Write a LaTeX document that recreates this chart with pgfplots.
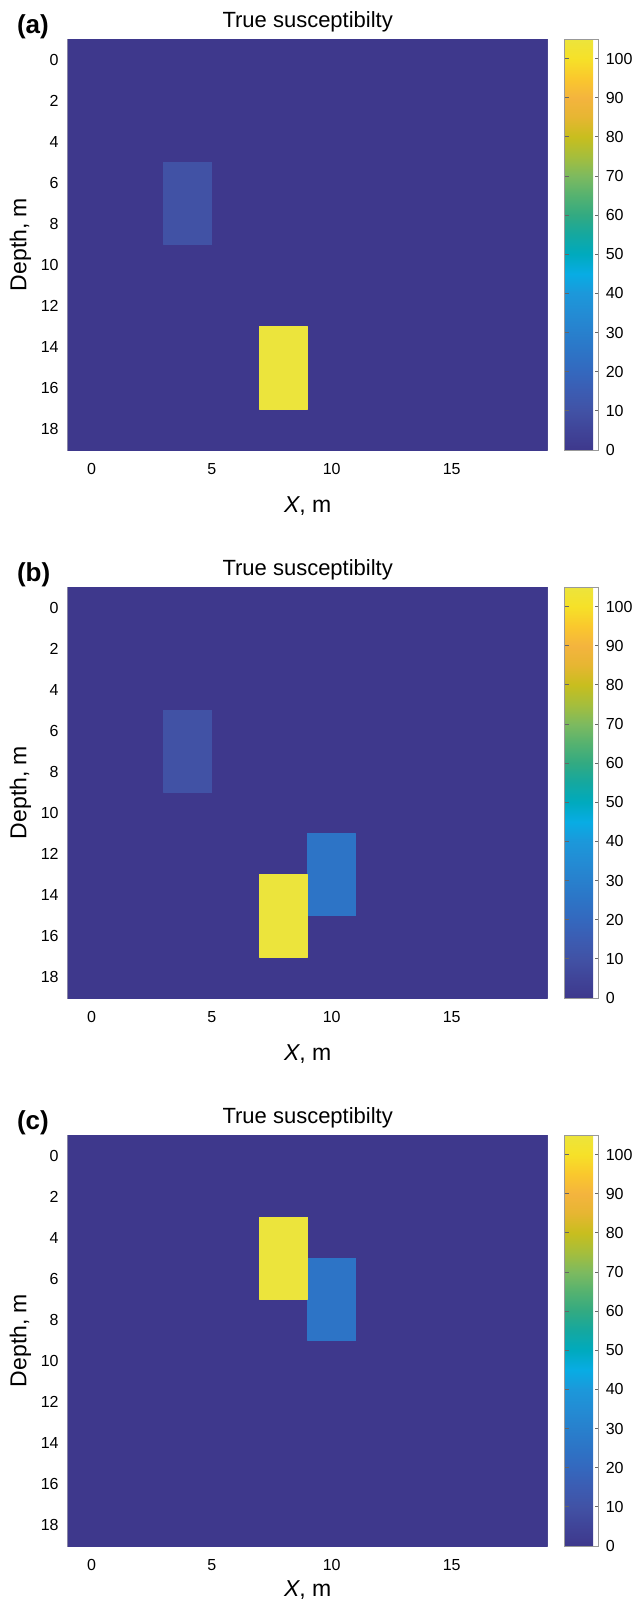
\documentclass[border=0pt]{standalone}
\usepackage{fontspec}
\setmainfont{Liberation Sans}
\usepackage{pgfplots}
\usepgfplotslibrary{patchplots}
\pgfplotsset{compat=1.18}

% parula-like map as seen in the scan, steps of 5 from 0 to 105
\pgfplotsset{
  colormap={scanparula}{
    rgb255=(62,56,140) rgb255=(64,68,152) rgb255=(65,82,165) rgb255=(60,92,178)
    rgb255=(52,104,190) rgb255=(45,116,198) rgb255=(40,128,205) rgb255=(35,140,212)
    rgb255=(28,152,218) rgb255=(8,172,228) rgb255=(0,170,190) rgb255=(20,168,160)
    rgb255=(50,170,130) rgb255=(85,178,112) rgb255=(125,186,95) rgb255=(165,190,60)
    rgb255=(200,190,30) rgb255=(230,182,50) rgb255=(244,180,62) rgb255=(250,200,45)
    rgb255=(246,225,40) rgb255=(236,228,60)
  },
  /pgf/number format/assume math mode=true,
  every tick label/.append style={font=\fontsize{8}{9.6}\selectfont},
  sus/.style={
    scale only axis,
    width=240pt, height=205.5pt,
    xmin=-1, xmax=19, ymin=-1, ymax=19,
    y dir=reverse,
    xtick={0,5,10,15},
    ytick={0,2,...,18},
    tick align=inside,
    major tick length=2.5pt,
    tick style={draw=black!45, line width=0.4pt},
    axis line style={draw=black!30, line width=0.5pt},
    xticklabel style={yshift=-3pt},
    yticklabel style={xshift=-1pt},
    title={True susceptibilty},
    title style={at={(0.5,1)}, anchor=base, font=\fontsize{11}{13}\selectfont},
    xlabel={\textit{X}, m},
    xlabel style={at={(0.5,-0.151)}, anchor=base, font=\fontsize{11.5}{13}\selectfont},
    ylabel={Depth, m},
    ylabel style={at={(-0.0983,0.5)}, anchor=center, font=\fontsize{11.5}{13}\selectfont},
    colormap name=scanparula,
    point meta min=0, point meta max=105,
    colorbar,
    colorbar style={
      at={(parent axis.north east)}, anchor=north west, xshift=0pt,
      width=17pt,
      ytick={0,10,...,100},
      tick align=inside,
      major tick length=2pt,
      tick style={draw=black!60, line width=0.4pt},
      axis line style={draw=black!40, line width=0.5pt},
      yticklabel style={font=\fontsize{8}{9.6}\selectfont},
    },
  },
  blocks/.style={patch, patch type=rectangle, shader=flat, point meta=explicit},
}

\begin{document}
\begin{tikzpicture}
\useasboundingbox (-33.85pt,19.5pt) rectangle (282.15pt,-781pt);

% (a)
\begin{axis}[sus, name=pa, at={(0,0)}, anchor=north west]
\addplot[blocks] table[meta=c] {
x y c
-1 -1 0
19 -1 0
19 19 0
-1 19 0
3 5 10
5 5 10
5 9 10
3 9 10
7 13 105
9 13 105
9 17 105
7 17 105
};
\end{axis}
\node[anchor=base west, font=\bfseries\fontsize{13}{15}\selectfont] at ([xshift=-28.85pt,yshift=3pt]pa.north west) {(a)};

% (b)
\begin{axis}[sus, name=pb, at={(0,-274pt)}, anchor=north west]
\addplot[blocks] table[meta=c] {
x y c
-1 -1 0
19 -1 0
19 19 0
-1 19 0
3 5 10
5 5 10
5 9 10
3 9 10
9 11 25
11 11 25
11 15 25
9 15 25
7 13 105
9 13 105
9 17 105
7 17 105
};
\end{axis}
\node[anchor=base west, font=\bfseries\fontsize{13}{15}\selectfont] at ([xshift=-28.85pt,yshift=3pt]pb.north west) {(b)};

% (c)
\begin{axis}[sus, name=pc, at={(0,-548pt)}, anchor=north west,
  xlabel style={at={(0.5,-0.122)}}]
\addplot[blocks] table[meta=c] {
x y c
-1 -1 0
19 -1 0
19 19 0
-1 19 0
9 5 25
11 5 25
11 9 25
9 9 25
7 3 105
9 3 105
9 7 105
7 7 105
};
\end{axis}
\node[anchor=base west, font=\bfseries\fontsize{13}{15}\selectfont] at ([xshift=-28.85pt,yshift=3pt]pc.north west) {(c)};
\end{tikzpicture}
\end{document}
